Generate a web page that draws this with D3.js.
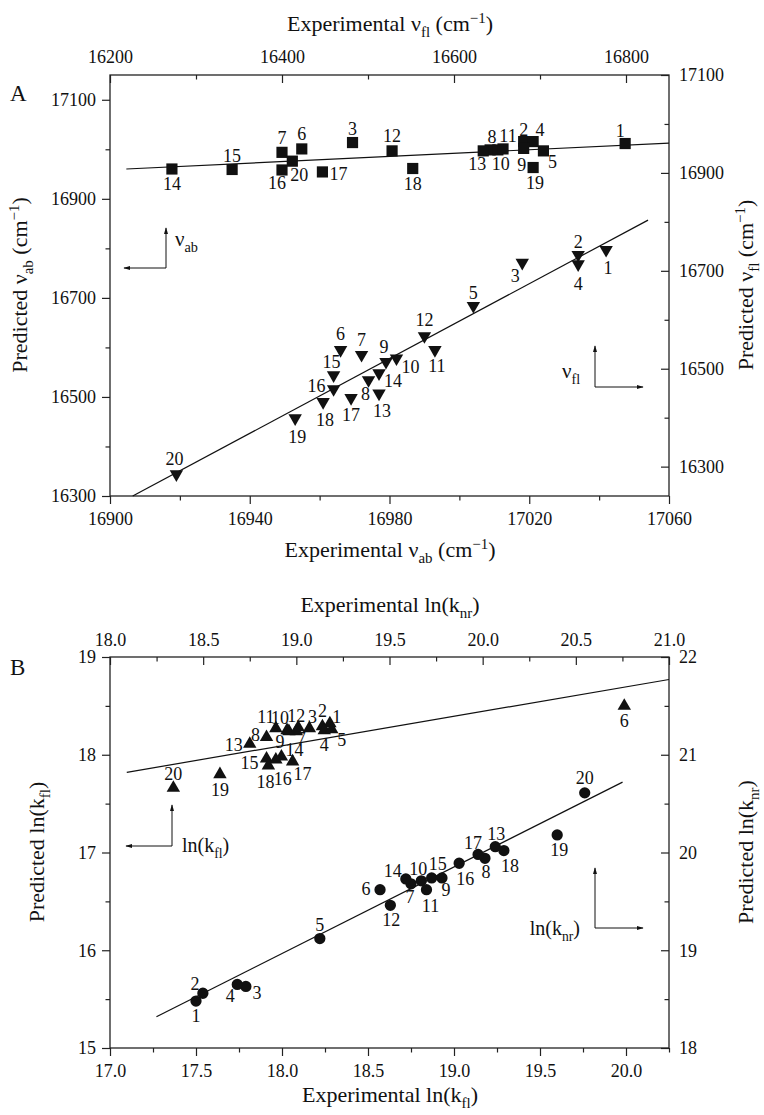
<!DOCTYPE html>
<html>
<head>
<meta charset="utf-8">
<script src="https://cdn.jsdelivr.net/npm/d3@7"></script>
<style>
body { margin: 0; background: #fff; }
svg, svg text { font-family: 'Liberation Serif', 'DejaVu Serif', serif !important; }
text { fill: #111; }
</style>
</head>
<body>
<script>
const width = 764
const height = 1115
const serif = "'Liberation Serif', 'DejaVu Serif', serif"

// compound numbers
const compounds = ['1','2','3','4','5','6','7','8','9','10','11','12','13','14','15','16','17','18','19','20']

// panel A: fluorescence maxima (squares, top / right axes)
const flExp  = [16799,16681,16482,16692,16704,16423,16400,16642,16681,16651,16657,16528,16634,16272,16342,16400,16447,16552,16692,16412]
const flPred = [16960,16964,16962,16964,16945,16949,16942,16947,16950,16947,16949,16945,16945,16908,16907,16906,16902,16909,16911,16924]
// panel A: absorption maxima (down triangles, bottom / left axes)
const abExp  = [17042,17034,17018,17034,17004,16966,16972,16974,16979,16982,16993,16990,16977,16977,16964,16964,16969,16961,16953,16919]
const abPred = [16797,16787,16771,16768,16684,16595,16585,16534,16571,16578,16595,16623,16507,16548,16544,16516,16498,16490,16457,16344]
const flFit = [[16219,16908],[16850,16961]]
const abFit = [[16906.5,16300],[17054,16857]]

// panel B: ln(knr) (up triangles, top / right axes)
const nrExp  = [19.18,19.14,19.07,19.15,19.19,20.76,19.00,18.84,18.96,18.95,18.89,19.01,18.75,18.92,18.84,18.89,18.98,18.85,18.59,18.34]
const nrPred = [21.32,21.29,21.27,21.25,21.26,21.50,21.24,21.18,21.24,21.25,21.27,21.28,21.11,20.98,20.96,20.95,20.93,20.89,20.80,20.66]
// panel B: ln(kfl) (circles, bottom / left axes)
const kflExp  = [17.50,17.54,17.79,17.74,18.22,18.57,18.75,19.18,18.93,18.81,18.84,18.63,19.24,18.72,18.87,19.03,19.14,19.29,19.60,19.76]
const kflPred = [15.48,15.56,15.63,15.65,16.12,16.62,16.68,16.94,16.74,16.71,16.62,16.46,17.06,16.73,16.74,16.89,16.98,17.02,17.18,17.61]
const nrFit  = [[18.09,20.82],[21.0,21.77]]
const kflFit = [[17.27,15.32],[19.98,17.72]]

// tick values
const aBottomMajor = [16900,16940,16980,17020,17060], aBottomMinor = [16920,16960,17000,17040]
const aTopMajor = [16200,16400,16600,16800], aTopMinor = [16300,16500,16700]
const aLeftMajor = [16300,16500,16700,16900,17100], aLeftMinor = [16400,16600,16800,17000]
const aRightMajor = [16300,16500,16700,16900,17100], aRightMinor = [16400,16600,16800,17000]
const bBottomMajor = [17.0,17.5,18.0,18.5,19.0,19.5,20.0], bBottomMinor = [17.25,17.75,18.25,18.75,19.25,19.75,20.25]
const bTopMajor = [18.0,18.5,19.0,19.5,20.0,20.5,21.0], bTopMinor = [18.25,18.75,19.25,19.75,20.25,20.75]
const bLeftMajor = [15,16,17,18,19], bLeftMinor = [15.5,16.5,17.5,18.5]
const bRightMajor = [18,19,20,21,22], bRightMinor = [18.5,19.5,20.5,21.5]

// label placement (px offset of each number from its marker)
const flLab  = [[-5,-13],[0,-12],[0,-14],[7,-12],[9,11],[0,-15],[0,-15],[2,-13],[-2,16],[3,14],[5,-13],[0,-15],[-6,13],[0,15],[0,-14],[-5,13],[16,2],[0,15],[2,15],[7,14]]
const abLab  = [[2,18],[0,-13],[-7,13],[0,19],[0,-13],[0,-16],[0,-15],[-3,14],[-2,-15],[14,8],[2,16],[0,-16],[3,17],[14,8],[-2,-13],[-17,-3],[0,17],[2,18],[2,18],[-2,-16]]
const nrLab  = [[7,-7],[0,-16],[3,-12],[0,14],[10,10],[0,15],[5,7],[-11,-2],[-9,10],[-7,-13],[-10,-12],[-2,-12],[-16,1],[13,-7],[-17,4],[7,19],[10,12],[-3,16],[0,15],[0,-14]]
const kflLab = [[0,15],[-8,-10],[11,6],[-7,11],[0,-14],[-14,-1],[-1,13],[1,13],[4,12],[-3,-12],[4,16],[1,14],[1,-13],[-13,-8],[6,-14],[6,15],[-5,-12],[6,15],[2,15],[0,-15]]

const svg = d3.select('body').append('svg')
  .attr('width', width)
  .attr('height', height)
  .attr('font-family', serif)

svg.append('defs').append('marker')
    .attr('id', 'head')
    .attr('viewBox', '0 0 10 10')
    .attr('refX', 9).attr('refY', 5)
    .attr('markerWidth', 7).attr('markerHeight', 7)
    .attr('orient', 'auto')
  .append('path')
    .attr('d', 'M0,2 L10,5 L0,8 Z')
    .attr('fill', '#111')

const L = 110, R = 669

// rich text with sub / superscripts
function rich(sel, parts, size) {
  sel.attr('font-family', serif)
  let shift = 0
  parts.forEach(p => {
    const target = p.sub ? size * 0.28 : p.sup ? -size * 0.38 : 0
    sel.append('tspan')
      .attr('dy', target - shift)
      .attr('font-size', (p.sub || p.sup) ? size * 0.68 : size)
      .text(p.t)
    shift = target
  })
  return sel
}

function axis(orient, scale, pos, majors, minors, fmt, inward, pad) {
  const make = {left: d3.axisLeft, right: d3.axisRight, top: d3.axisTop, bottom: d3.axisBottom}[orient]
  const s = inward ? -1 : 1
  const t = (orient === 'left' || orient === 'right') ? `translate(${pos},0)` : `translate(0,${pos})`
  svg.append('g').attr('transform', t)
    .call(make(scale).tickValues(minors).tickSize(s * 4.5).tickSizeOuter(0).tickFormat(''))
    .call(g => g.select('.domain').remove())
  svg.append('g').attr('transform', t)
    .call(make(scale).tickValues(majors).tickSize(s * 8).tickSizeOuter(0).tickPadding(pad).tickFormat(fmt))
    .attr('font-family', serif)
    .call(g => g.select('.domain').remove())
    .call(g => g.selectAll('text').attr('font-size', 18).attr('fill', '#111'))
  svg.selectAll('.tick line').attr('stroke', '#222').attr('stroke-width', 1.2)
}

function frame(top, bottom) {
  svg.append('rect')
    .attr('x', L).attr('y', top)
    .attr('width', R - L).attr('height', bottom - top)
    .attr('fill', 'none').attr('stroke', '#222').attr('stroke-width', 1.3)
}

function fitLine(x, y, pts) {
  svg.append('line')
    .attr('x1', x(pts[0][0])).attr('y1', y(pts[0][1]))
    .attr('x2', x(pts[1][0])).attr('y2', y(pts[1][1]))
    .attr('stroke', '#111').attr('stroke-width', 1.2)
}

function points(x, y, xs, ys, shape, labs) {
  const g = svg.append('g')
  const data = compounds.map((c, i) => ({c: c, x: x(xs[i]), y: y(ys[i]), off: labs[i]}))
  let sym
  if (shape === 'square') sym = d3.symbol(d3.symbolSquare, 125)
  else if (shape === 'circle') sym = d3.symbol(d3.symbolCircle, 100)
  else sym = d3.symbol(d3.symbolTriangle, 78)
  g.selectAll('path').data(data).enter().append('path')
    .attr('d', sym)
    .attr('transform', d => `translate(${d.x},${d.y})` + (shape === 'down' ? ' rotate(180)' : ''))
    .attr('fill', '#111')
  g.selectAll('text').data(data).enter().append('text')
    .attr('x', d => d.x + d.off[0])
    .attr('y', d => d.y + d.off[1])
    .attr('dy', '0.35em')
    .attr('text-anchor', 'middle')
    .attr('font-family', serif)
    .attr('font-size', 18)
    .text(d => d.c)
}

function indicator(x0, y0, up, side) {
  svg.append('path').attr('d', `M${x0},${y0} V${y0 - up}`)
    .attr('stroke', '#111').attr('fill', 'none').attr('stroke-width', 1).attr('marker-end', 'url(#head)')
  svg.append('path').attr('d', `M${x0},${y0} H${x0 + side}`)
    .attr('stroke', '#111').attr('fill', 'none').attr('stroke-width', 1).attr('marker-end', 'url(#head)')
}

// ---------------- panel A ----------------
const aTop = 75, aBot = 496
const xAb = d3.scaleLinear().domain([16900, 17060]).range([L, R])
const xAt = d3.scaleLinear().domain([16200, 16850]).range([L, R])
const yAl = d3.scaleLinear().domain([16300, 17150]).range([aBot, aTop])
const yAr = d3.scaleLinear().domain([16240, 17100]).range([aBot, aTop])

axis('bottom', xAb, aBot, aBottomMajor, aBottomMinor, d3.format('d'), false, 8)
axis('top', xAt, aTop, aTopMajor, aTopMinor, d3.format('d'), true, 12)
axis('left', yAl, L, aLeftMajor, aLeftMinor, d3.format('d'), false, 6)
axis('right', yAr, R, aRightMajor, aRightMinor, d3.format('d'), true, 10)
frame(aTop, aBot)

fitLine(xAt, yAr, flFit)
fitLine(xAb, yAl, abFit)
points(xAt, yAr, flExp, flPred, 'square', flLab)
points(xAb, yAl, abExp, abPred, 'down', abLab)

svg.append('text').attr('x', 10).attr('y', 101).attr('font-size', 23).attr('font-family', serif).text('A')
rich(svg.append('text').attr('x', 390).attr('y', 31).attr('text-anchor', 'middle'),
  [{t: 'Experimental ν'}, {t: 'fl', sub: true}, {t: ' (cm'}, {t: '−1', sup: true}, {t: ')'}], 22)
rich(svg.append('text').attr('x', 390).attr('y', 557).attr('text-anchor', 'middle'),
  [{t: 'Experimental ν'}, {t: 'ab', sub: true}, {t: ' (cm'}, {t: '−1', sup: true}, {t: ')'}], 22)
rich(svg.append('text').attr('transform', 'translate(27,285) rotate(-90)').attr('text-anchor', 'middle'),
  [{t: 'Predicted ν'}, {t: 'ab', sub: true}, {t: ' (cm'}, {t: '−1', sup: true}, {t: ')'}], 22)
rich(svg.append('text').attr('transform', 'translate(753,285) rotate(-90)').attr('text-anchor', 'middle'),
  [{t: 'Predicted ν'}, {t: 'fl', sub: true}, {t: ' (cm'}, {t: '−1', sup: true}, {t: ')'}], 22)

indicator(166, 268, 40, -42)
rich(svg.append('text').attr('x', 175).attr('y', 246), [{t: 'ν'}, {t: 'ab', sub: true}], 21)
indicator(595, 387, 41, 48)
rich(svg.append('text').attr('x', 562).attr('y', 378), [{t: 'ν'}, {t: 'fl', sub: true}], 21)

// ---------------- panel B ----------------
const bTop = 657, bBot = 1048
const xBb = d3.scaleLinear().domain([17, 20.25]).range([L, R])
const xBt = d3.scaleLinear().domain([18, 21]).range([L, R])
const yBl = d3.scaleLinear().domain([15, 19]).range([bBot, bTop])
const yBr = d3.scaleLinear().domain([18, 22]).range([bBot, bTop])

axis('bottom', xBb, bBot, bBottomMajor, bBottomMinor, d3.format('.1f'), false, 8)
axis('top', xBt, bTop, bTopMajor, bTopMinor, d3.format('.1f'), true, 11)
axis('left', yBl, L, bLeftMajor, bLeftMinor, d3.format('d'), false, 6)
axis('right', yBr, R, bRightMajor, bRightMinor, d3.format('d'), true, 10)
frame(bTop, bBot)

fitLine(xBt, yBr, nrFit)
fitLine(xBb, yBl, kflFit)
points(xBt, yBr, nrExp, nrPred, 'up', nrLab)
points(xBb, yBl, kflExp, kflPred, 'circle', kflLab)

svg.append('text').attr('x', 10).attr('y', 675).attr('font-size', 23).attr('font-family', serif).text('B')
rich(svg.append('text').attr('x', 390).attr('y', 612).attr('text-anchor', 'middle'),
  [{t: 'Experimental ln(k'}, {t: 'nr', sub: true}, {t: ')'}], 22)
rich(svg.append('text').attr('x', 390).attr('y', 1102).attr('text-anchor', 'middle'),
  [{t: 'Experimental ln(k'}, {t: 'fl', sub: true}, {t: ')'}], 22)
rich(svg.append('text').attr('transform', 'translate(44,852) rotate(-90)').attr('text-anchor', 'middle'),
  [{t: 'Predicted ln(k'}, {t: 'fl', sub: true}, {t: ')'}], 22)
rich(svg.append('text').attr('transform', 'translate(753,852) rotate(-90)').attr('text-anchor', 'middle'),
  [{t: 'Predicted ln(k'}, {t: 'nr', sub: true}, {t: ')'}], 22)

indicator(172, 846, 41, -46)
rich(svg.append('text').attr('x', 182).attr('y', 852), [{t: 'ln(k'}, {t: 'fl', sub: true}, {t: ')'}], 20)
indicator(595, 928, 60, 48)
rich(svg.append('text').attr('x', 580).attr('y', 935).attr('text-anchor', 'end'), [{t: 'ln(k'}, {t: 'nr', sub: true}, {t: ')'}], 20)
</script>
</body>
</html>
